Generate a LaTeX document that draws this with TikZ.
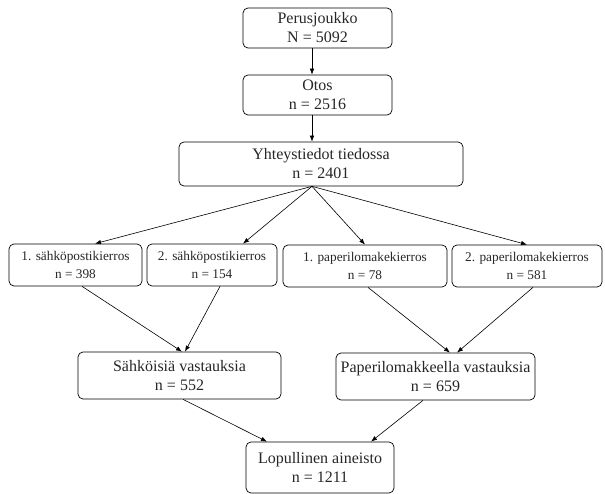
\documentclass[tikz,border=0pt]{standalone}
\usepackage{fontspec}
\setmainfont{Liberation Serif}
\usetikzlibrary{arrows.meta}
\begin{document}
\begin{tikzpicture}[x=1pt,y=-1pt,
  box/.style={draw, rounded corners=5pt, line width=0.7pt, inner sep=0pt, align=center,
    font=\fontsize{16}{19}\selectfont, text=black!85},
  small/.style={box, font=\fontsize{13.3}{18}\selectfont},
  arr/.style={-{Latex[length=6pt,width=4.5pt]}, line width=0.6pt},
  ln/.style={line width=0.6pt}]
\useasboundingbox (0,0) rectangle (605,494);
\node[box, minimum width=149pt, minimum height=40pt] (per) at (317.5,28) {Perusjoukko\\N = 5092};
\node[box, minimum width=149pt, minimum height=40pt] (otos) at (317.5,95) {Otos\\n = 2516};
\node[box, minimum width=284pt, minimum height=44pt] (yht) at (321,164) {Yhteystiedot tiedossa\\n = 2401};
\node[small, minimum width=133pt, minimum height=42pt] (b1) at (75.5,265) {1. sähköpostikierros\\n = 398};
\node[small, minimum width=130pt, minimum height=42pt] (b2) at (212,265) {2. sähköpostikierros\\n = 154};
\node[small, minimum width=164pt, minimum height=42pt] (b3) at (365,266) {1. paperilomakekierros\\n = 78};
\node[small, minimum width=150pt, minimum height=42pt] (b4) at (527,266) {2. paperilomakekierros\\n = 581};
\node[box, minimum width=203pt, minimum height=47pt] (s) at (179.5,375.5) {Sähköisiä vastauksia\\n = 552};
\node[box, minimum width=199pt, minimum height=47pt] (p) at (435.5,376.5) {Paperilomakkeella vastauksia\\n = 659};
\node[box, minimum width=148pt, minimum height=51pt] (L) at (320,467.5) {Lopullinen aineisto\\n = 1211};
\draw[arr] ([xshift=-5.5pt]per.south) -- ([xshift=-5.5pt]otos.north);
\draw[arr] ([xshift=-5.5pt]otos.south) -- ([xshift=-9pt]yht.north);
\draw[arr] ([xshift=-9pt]yht.south) -- ([xshift=19.5pt]b1.north);
\draw[arr] ([xshift=-9pt]yht.south) -- ([xshift=31pt]b2.north);
\draw[arr] ([xshift=-9pt]yht.south) -- (b3.north);
\draw[arr] ([xshift=-9pt]yht.south) -- (b4.north);
\draw[arr] ([xshift=6.5pt]b1.south) -- ([xshift=2.5pt]s.north);
\draw[arr] ([xshift=8pt]b2.south) -- ([xshift=5.5pt]s.north);
\draw[arr] ([xshift=3pt]b3.south) -- ([xshift=14.5pt]p.north);
\draw[arr] ([xshift=6pt]b4.south) -- ([xshift=21.5pt]p.north);
\draw[arr] ([xshift=3.5pt]s.south) -- ([xshift=-53pt]L.north);
\draw[arr] ([xshift=-12.5pt]p.south) -- ([xshift=51pt]L.north);
\end{tikzpicture}
\end{document}
